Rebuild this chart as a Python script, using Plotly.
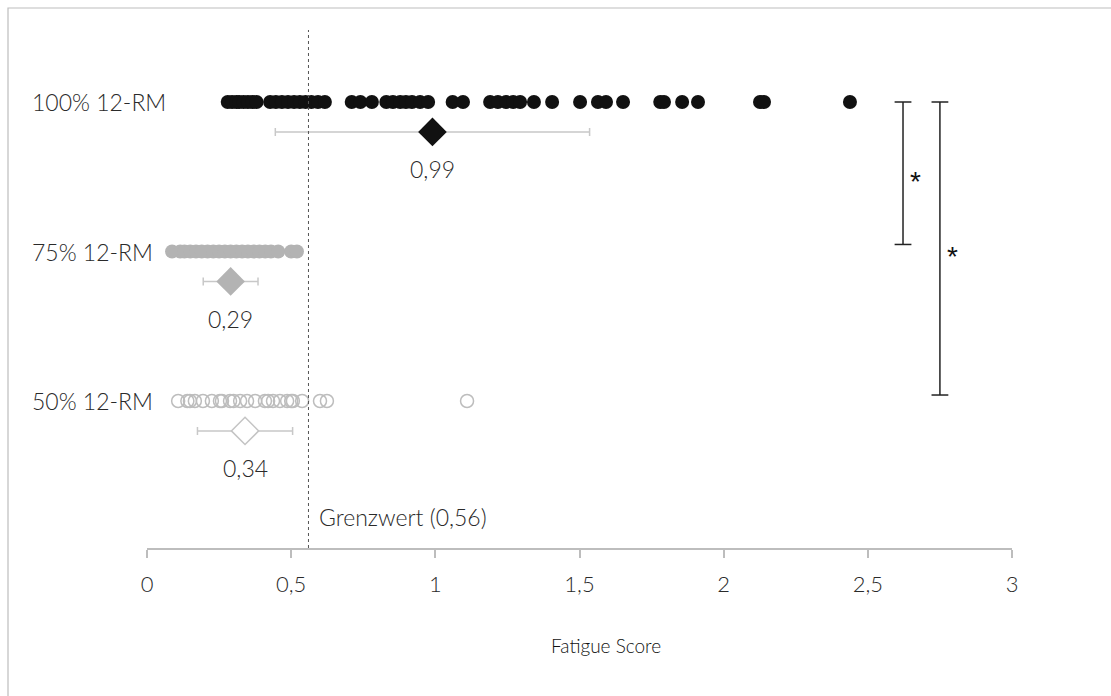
import plotly.graph_objects as go

# ---- data ----
groups = ["100% 12-RM", "75% 12-RM", "50% 12-RM"]
row_y = [3, 2, 1]

scores_100 = [0.28, 0.295, 0.31, 0.32, 0.335, 0.35, 0.365, 0.38, 0.427, 0.447, 0.468,
              0.489, 0.51, 0.53, 0.55, 0.57, 0.593, 0.617, 0.71, 0.74, 0.78, 0.83,
              0.853, 0.878, 0.898, 0.919, 0.947, 0.975, 1.06, 1.096, 1.19, 1.217,
              1.245, 1.27, 1.294, 1.342, 1.405, 1.502, 1.564, 1.592, 1.651, 1.78,
              1.793, 1.856, 1.911, 2.126, 2.14, 2.438]
scores_75 = [0.087, 0.115, 0.13, 0.15, 0.17, 0.19, 0.21, 0.23, 0.25, 0.27, 0.29, 0.31,
             0.33, 0.35, 0.37, 0.39, 0.41, 0.43, 0.455, 0.5, 0.52]
scores_50 = [0.108, 0.14, 0.149, 0.166, 0.194, 0.225, 0.253, 0.26, 0.288, 0.3, 0.323,
             0.347, 0.375, 0.409, 0.42, 0.437, 0.461, 0.486, 0.5, 0.506, 0.538, 0.6,
             0.624, 1.11]

means = [0.99, 0.29, 0.34]
mean_labels = ["0,99", "0,29", "0,34"]
sds = [0.545, 0.095, 0.165]

threshold = 0.56
threshold_label = "Grenzwert (0,56)"

tick_vals = [0, 0.5, 1, 1.5, 2, 2.5, 3]
tick_text = ["0", "0,5", "1", "1,5", "2", "2,5", "3"]
axis_title = "Fatigue Score"

# significance brackets: (x, y_top, y_bottom)
sig_x = [2.622, 2.75]
sig_top = [3, 3]
sig_bottom = [2.047, 1.04]

FONT = "Lato"
W = 300
TXT = "#2a2a2a"

fig = go.Figure()

point_styles = [
    dict(color="#111111", size=14, line=dict(width=0)),
    dict(color="#b3b3b3", size=14, line=dict(width=0)),
    dict(color="rgba(255,255,255,0)", size=13, line=dict(color="#bdbdbd", width=1.5)),
]
mean_styles = [
    dict(color="#111111", size=22, symbol="diamond", line=dict(width=0)),
    dict(color="#b3b3b3", size=22, symbol="diamond", line=dict(width=0)),
    dict(color="white", size=21, symbol="diamond", line=dict(color="#c4c4c4", width=1.5)),
]

for i, sc in enumerate([scores_100, scores_75, scores_50]):
    fig.add_trace(go.Scatter(x=sc, y=[row_y[i]] * len(sc), mode="markers",
                             marker=point_styles[i], showlegend=False, hoverinfo="x"))

for i in range(3):
    fig.add_trace(go.Scatter(
        x=[means[i]], y=[row_y[i] - 0.2], mode="markers",
        marker=mean_styles[i],
        error_x=dict(type="data", array=[sds[i]], color="#c8c8c8", thickness=1.5, width=4),
        showlegend=False))
    fig.add_annotation(x=means[i], y=row_y[i] - 0.45, text=mean_labels[i], showarrow=False,
                       font=dict(family=FONT, size=23, color=TXT, weight=W))
    fig.add_annotation(xref="paper", x=-0.1353, xanchor="left", y=row_y[i], text=groups[i],
                       showarrow=False, font=dict(family=FONT, size=23, color=TXT, weight=W))

# threshold line
fig.add_shape(type="line", x0=threshold, x1=threshold, yref="paper", y0=0, y1=1,
              line=dict(color="#555555", width=1, dash="dot"))
fig.add_annotation(x=threshold, xanchor="left", xshift=9, y=0.225, text=threshold_label,
                   showarrow=False, font=dict(family=FONT, size=23, color=TXT, weight=W))

# significance brackets
for k in range(2):
    fig.add_trace(go.Scatter(x=[sig_x[k], sig_x[k]], y=[sig_top[k], sig_bottom[k]],
                             mode="lines", line=dict(color="#222222", width=1.5),
                             showlegend=False, hoverinfo="skip"))
    for yy in [sig_top[k], sig_bottom[k]]:
        fig.add_trace(go.Scatter(x=[sig_x[k]], y=[yy], mode="markers",
                                 marker=dict(symbol="line-ew", size=12,
                                             line=dict(color="#222222", width=1.5)),
                                 showlegend=False, hoverinfo="skip"))
    fig.add_annotation(x=sig_x[k], xanchor="left", xshift=5, yshift=-8,
                       y=(sig_top[k] + sig_bottom[k]) / 2, text="*", showarrow=False,
                       font=dict(family="Liberation Sans", size=28, color="#111111"))

# axis title
fig.add_annotation(xref="paper", yref="paper", x=(606 - 147) / 865, y=(548 - 645) / 518,
                   xanchor="center", yanchor="middle",
                   text=axis_title, showarrow=False,
                   font=dict(family=FONT, size=19, color="#111111", weight=W))

# outer border
fig.add_shape(type="rect", xref="paper", yref="paper",
              x0=(8 - 147) / 865, x1=(1125 - 147) / 865,
              y0=(548 - 710) / 518, y1=(548 - 8) / 518,
              line=dict(color="#bdbdbd", width=1.2))

fig.update_layout(
    width=1111, height=696,
    margin=dict(l=147, r=99, t=30, b=148),
    plot_bgcolor="white", paper_bgcolor="white",
    font=dict(family=FONT, color=TXT),
    xaxis=dict(range=[0, 3], tickvals=tick_vals, ticktext=tick_text,
               showgrid=False, zeroline=False, showline=True, linecolor="#bdbdbd",
               linewidth=1.5, ticks="outside", ticklen=8, tickcolor="#bdbdbd",
               tickwidth=1.5, ticklabelstandoff=8,
               tickfont=dict(family=FONT, size=22, color=TXT, weight=W)),
    yaxis=dict(range=[0.0167, 3.4816], visible=False, showgrid=False, zeroline=False),
)

fig.write_html("out.html")
